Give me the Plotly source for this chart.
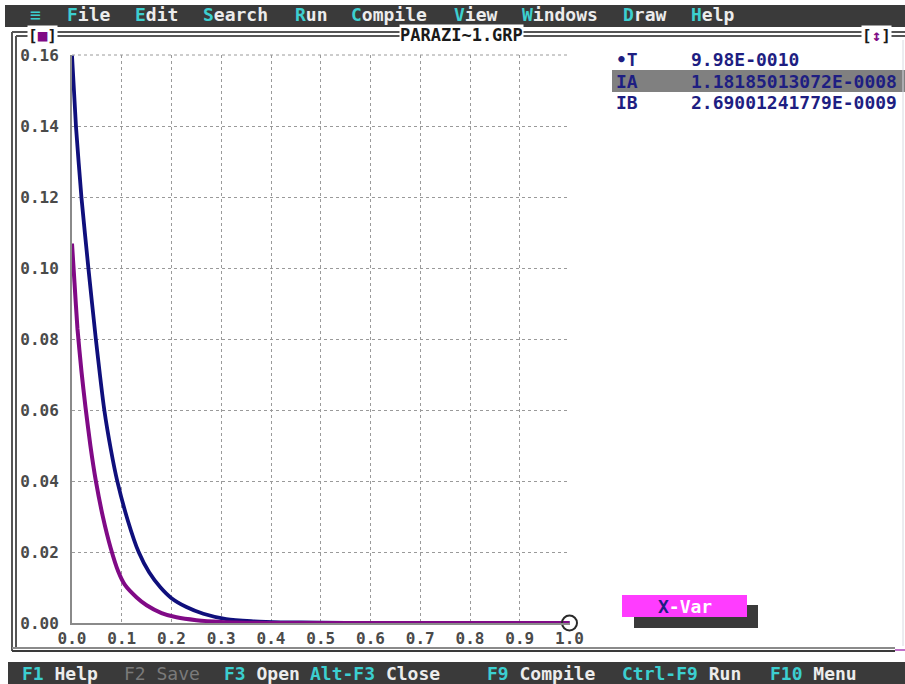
import plotly.graph_objects as go

W, H = 905, 684

# ---- data ----
ia_x = [0.0, 0.008, 0.019, 0.033, 0.048, 0.065, 0.078, 0.091, 0.112, 0.134, 0.155, 0.178,
        0.200, 0.230, 0.264, 0.310, 0.360, 0.420, 0.500, 0.600, 0.700, 0.800, 0.900, 1.000]
ia_y = [0.160, 0.140, 0.120, 0.100, 0.080, 0.060, 0.049, 0.040, 0.029, 0.020, 0.0143, 0.0100,
        0.0070, 0.0045, 0.0026, 0.0011, 0.0005, 0.0002, 0.0001, 0.0, 0.0, 0.0, 0.0, 0.0]

ib_x = [0.0, 0.005, 0.011, 0.019, 0.027, 0.037, 0.048, 0.062, 0.078, 0.093, 0.106, 0.130,
        0.150, 0.180, 0.210, 0.250, 0.300, 0.350, 0.400, 0.500, 0.600, 0.700, 0.800, 0.900,
        1.000]
ib_y = [0.107, 0.096, 0.083, 0.071, 0.061, 0.050, 0.040, 0.030, 0.021, 0.0145, 0.0108, 0.0072,
        0.0050, 0.0028, 0.0016, 0.0008, 0.0003, 0.0001, 0.0, 0.0, 0.0, 0.0, 0.0, 0.0, 0.0]

x_ticks = [0.0, 0.1, 0.2, 0.3, 0.4, 0.5, 0.6, 0.7, 0.8, 0.9, 1.0]
x_tick_labels = ["0.0", "0.1", "0.2", "0.3", "0.4", "0.5", "0.6", "0.7", "0.8", "0.9", "1.0"]
y_ticks = [0.00, 0.02, 0.04, 0.06, 0.08, 0.10, 0.12, 0.14, 0.16]
y_tick_labels = ["0.00", "0.02", "0.04", "0.06", "0.08", "0.10", "0.12", "0.14", "0.16"]

menu_items = ["File", "Edit", "Search", "Run", "Compile", "View", "Windows", "Draw", "Help"]
menu_pos = [65, 133, 201, 293, 349, 452, 520, 621, 689]

status_keys = ["F1", "F2", "F3", "Alt-F3", "F9", "Ctrl-F9", "F10"]
status_words = ["Help", "Save", "Open", "Close", "Compile", "Run", "Menu"]
status_pos = [20, 122, 222, 308, 485, 620, 768]

var_names = ["•T", "IA", "IB"]
var_values = ["9.98E-0010", "1.18185013072E-0008", "2.69001241779E-0009"]

cursor_x = [1.0]
cursor_y = [0.0]

# ---- colours / fonts ----
BAR = "#3a3a3a"
CYAN = "#3ccfd0"
WHITE = "#ececec"
NAVY = "#1e1e82"
IA_COL = "#0f0f7c"
IB_COL = "#800a86"
FRAME = "#555555"
GRID = "#9a9a9a"
FONT = "DejaVu Sans Mono"


def px(x):
    return x / W


def py(y):
    return 1 - y / H


fig = go.Figure()

fig.add_trace(go.Scatter(x=ia_x, y=ia_y, mode="lines", name="IA",
                         line=dict(color=IA_COL, width=3.8, shape="spline", smoothing=0.5),
                         showlegend=False))
fig.add_trace(go.Scatter(x=ib_x, y=ib_y, mode="lines", name="IB",
                         line=dict(color=IB_COL, width=4, shape="spline", smoothing=0.5),
                         showlegend=False))
fig.add_trace(go.Scatter(x=cursor_x, y=cursor_y, mode="markers", showlegend=False,
                         marker=dict(symbol="circle-open", size=15,
                                     color="#2a2a2a", line=dict(width=2, color="#2a2a2a")),
                         cliponaxis=False))

shapes = []
annotations = []

# dotted top edge of the plotting area (grid frame)
shapes.append(dict(type="line", xref="x domain", yref="y domain", x0=0, x1=1, y0=1, y1=1,
                   line=dict(color=GRID, width=1, dash="dot"), layer="below"))

# menu bar
shapes.append(dict(type="rect", xref="paper", yref="paper", x0=px(5), x1=px(905),
                   y0=py(27), y1=py(5), fillcolor=BAR, line=dict(width=0), layer="below"))
annotations.append(dict(xref="paper", yref="paper", x=px(35), y=py(15), text="≡",
                        showarrow=False, xanchor="center", yanchor="middle",
                        font=dict(family=FONT, size=18, color=CYAN)))
for name, xp in zip(menu_items, menu_pos):
    annotations.append(dict(
        xref="paper", yref="paper", x=px(xp), y=py(15),
        text=f"<span style='color:{CYAN}'><b>{name[0]}</b></span><b>{name[1:]}</b>",
        showarrow=False, xanchor="left", yanchor="middle",
        font=dict(family=FONT, size=18, color=WHITE)))

# status bar
shapes.append(dict(type="rect", xref="paper", yref="paper", x0=px(8), x1=px(905),
                   y0=py(684), y1=py(662), fillcolor=BAR, line=dict(width=0), layer="below"))
for key, word, xp in zip(status_keys, status_words, status_pos):
    if key == "F2":
        txt = f"<span style='color:#7a7a7a'>{key} {word}</span>"
    else:
        txt = f"<span style='color:{CYAN}'><b>{key}</b></span> <b>{word}</b>"
    annotations.append(dict(xref="paper", yref="paper", x=px(xp), y=py(673), text=txt,
                            showarrow=False, xanchor="left", yanchor="middle",
                            font=dict(family=FONT, size=18, color=WHITE)))

# window frame (double lines)
for off in (0, 4):
    shapes.append(dict(type="line", xref="paper", yref="paper",
                       x0=px(12 + off), x1=px(12 + off), y0=py(32 + off), y1=py(651 - off),
                       line=dict(color=FRAME, width=2)))
    shapes.append(dict(type="line", xref="paper", yref="paper",
                       x0=px(12 + off), x1=px(905), y0=py(32 + off), y1=py(32 + off),
                       line=dict(color=FRAME, width=2)))
shapes.append(dict(type="line", xref="paper", yref="paper", x0=px(12), x1=px(895),
                   y0=py(648), y1=py(648), line=dict(color="#8a8a8a", width=2)))
shapes.append(dict(type="line", xref="paper", yref="paper", x0=px(12), x1=px(895),
                   y0=py(651), y1=py(651), line=dict(color="#3a3a3a", width=2)))
shapes.append(dict(type="line", xref="paper", yref="paper", x0=px(895), x1=px(905),
                   y0=py(650), y1=py(650), line=dict(color="#c070c8", width=2)))
shapes.append(dict(type="line", xref="paper", yref="paper", x0=px(903), x1=px(903),
                   y0=py(40), y1=py(646), line=dict(color="#d8d8e0", width=1)))

# title and frame buttons (white background breaks the border)
annotations.append(dict(xref="paper", yref="paper", x=px(462), y=py(35),
                        text="<b>PARAZI~1.GRP</b>", showarrow=False,
                        xanchor="center", yanchor="middle", bgcolor="white",
                        borderpad=0, font=dict(family=FONT, size=17, color="#1a1a1a")))
annotations.append(dict(xref="paper", yref="paper", x=px(42), y=py(35),
                        text="<b>[<span style='color:#800a86'>■</span>]</b>", showarrow=False,
                        xanchor="center", yanchor="middle", bgcolor="white", borderpad=0,
                        font=dict(family=FONT, size=16, color="#1a1a1a")))
annotations.append(dict(xref="paper", yref="paper", x=px(876), y=py(35),
                        text="<b>[<span style='color:#800a86'>↕</span>]</b>", showarrow=False,
                        xanchor="center", yanchor="middle", bgcolor="white", borderpad=0,
                        font=dict(family=FONT, size=16, color="#1a1a1a")))

# variable panel
shapes.append(dict(type="rect", xref="paper", yref="paper", x0=px(612), x1=px(905),
                   y0=py(92), y1=py(70), fillcolor="#808080", line=dict(width=0), layer="below"))
var_rows = [59, 81, 102]
for name, val, yp in zip(var_names, var_values, var_rows):
    annotations.append(dict(xref="paper", yref="paper", x=px(614), y=py(yp),
                            text=f"<b>{name}</b>", showarrow=False, xanchor="left",
                            yanchor="middle", font=dict(family=FONT, size=18, color=NAVY)))
    annotations.append(dict(xref="paper", yref="paper", x=px(689), y=py(yp),
                            text=f"<b>{val}</b>", showarrow=False, xanchor="left",
                            yanchor="middle", font=dict(family=FONT, size=18, color=NAVY)))

# X-Var button
shapes.append(dict(type="rect", xref="paper", yref="paper", x0=px(634), x1=px(758),
                   y0=py(628), y1=py(605), fillcolor="#3a3a3a", line=dict(width=0)))
shapes.append(dict(type="rect", xref="paper", yref="paper", x0=px(622), x1=px(747),
                   y0=py(617), y1=py(595), fillcolor="#ff3cff", line=dict(width=0)))
annotations.append(dict(xref="paper", yref="paper", x=px(685), y=py(606),
                        text=f"<b><span style='color:{NAVY}'>X</span>-Var</b>",
                        showarrow=False, xanchor="center", yanchor="middle",
                        font=dict(family=FONT, size=18, color="white")))

fig.update_layout(
    width=W, height=H,
    margin=dict(l=0, r=0, t=0, b=0, pad=0, autoexpand=False),
    paper_bgcolor="white", plot_bgcolor="white",
    hovermode=False,
    shapes=shapes, annotations=annotations,
    xaxis=dict(domain=[px(72), px(570)], range=[0, 1.001], tickvals=x_ticks, automargin=False,
               ticktext=x_tick_labels, showgrid=True, gridcolor=GRID, griddash="dot",
               gridwidth=1, zeroline=False, showline=True, linecolor="#8a8a8a", linewidth=2,
               ticks="", ticklabelstandoff=0,
               tickfont=dict(family=FONT, size=16, color="#4a4a4a", weight="bold")),
    yaxis=dict(domain=[py(623), py(55)], range=[0, 0.1602], tickvals=y_ticks, automargin=False,
               ticktext=y_tick_labels, showgrid=True, gridcolor=GRID, griddash="dot",
               gridwidth=1, zeroline=False, showline=True, linecolor="#8a8a8a", linewidth=2,
               ticks="", ticklabelstandoff=8,
               tickfont=dict(family=FONT, size=16, color="#4a4a4a", weight="bold")),
)

fig.write_html("out.html",
               config={"displayModeBar": False, "staticPlot": True},
               post_script="document.body.style.margin='0px';"
                           "document.body.style.overflow='hidden';")
